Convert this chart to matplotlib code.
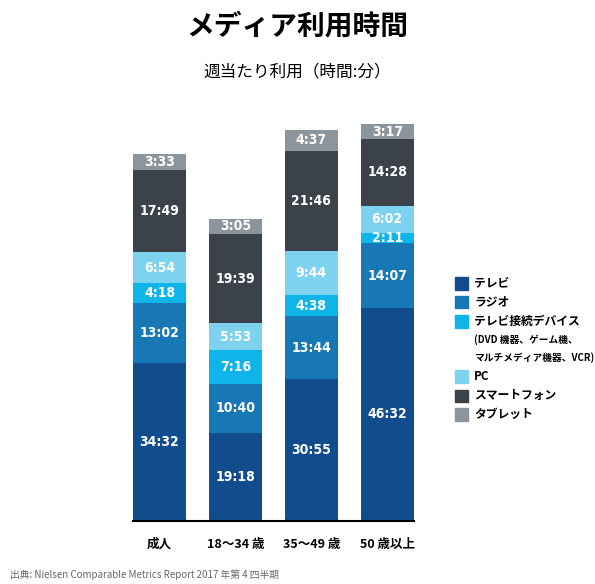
import matplotlib.pyplot as plt
from matplotlib.patches import Rectangle

plt.rcParams['font.family'] = ['Noto Sans CJK JP', 'DejaVu Sans']

# データ(時間:分)
groups = ["成人", "18～34 歳", "35～49 歳", "50 歳以上"]
media = ["テレビ", "ラジオ", "テレビ接続デバイス", "PC", "スマートフォン", "タブレット"]
tv = ["34:32", "19:18", "30:55", "46:32"]
radio = ["13:02", "10:40", "13:44", "14:07"]
tv_device = ["4:18", "7:16", "4:38", "2:11"]
pc = ["6:54", "5:53", "9:44", "6:02"]
smartphone = ["17:49", "19:39", "21:46", "14:28"]
tablet = ["3:33", "3:05", "4:37", "3:17"]
series = [tv, radio, tv_device, pc, smartphone, tablet]
colors = ["#114d8c", "#1778b5", "#0fb5e9", "#7dd3ef", "#3b4249", "#8d959c"]


def to_hours(s):
    h, m = s.split(":")
    return int(h) + int(m) / 60


fig = plt.figure(figsize=(5.95, 5.84), dpi=100)
ax = fig.add_axes([0.2235, 0.108, 0.472, 0.69])

x = range(len(groups))
bottoms = [0.0] * len(groups)
for vals, col in zip(series, colors):
    hrs = [to_hours(v) for v in vals]
    ax.bar(x, hrs, width=0.7, bottom=bottoms, color=col, edgecolor="none")
    for i, (h, lab) in enumerate(zip(hrs, vals)):
        ax.text(i, bottoms[i] + h / 2, lab, ha="center", va="center",
                color="white", fontsize=10, fontweight="bold",
                family="DejaVu Sans", stretch="condensed")
    bottoms = [b + h for b, h in zip(bottoms, hrs)]

ax.set_xlim(-0.35, 3.35)
ax.set_ylim(0, 88)
for s in ["top", "right", "left"]:
    ax.spines[s].set_visible(False)
ax.spines["bottom"].set_linewidth(1.5)
ax.set_yticks([])
ax.set_xticks(list(x))
ax.set_xticklabels(groups, fontsize=9, fontweight="bold")
ax.tick_params(axis="x", length=0, pad=12)

fig.text(0.5, 0.955, "メディア利用時間", ha="center", va="center",
         fontsize=20, fontweight="bold")
fig.text(0.5, 0.877, "週当たり利用（時間:分）", ha="center", va="center", fontsize=12)

# 凡例
legend_rows = [0.515, 0.483, 0.450, 0.355, 0.322, 0.290]
for name, col, yy in zip(media, colors, legend_rows):
    fig.patches.append(Rectangle((0.764, yy - 0.011), 0.022, 0.022, color=col,
                                 transform=fig.transFigure, figure=fig))
    fig.text(0.797, yy, name, ha="left", va="center", fontsize=8.5, fontweight="bold")
fig.text(0.797, 0.419, "(DVD 機器、ゲーム機、", ha="left", va="center",
         fontsize=7, fontweight="bold")
fig.text(0.797, 0.388, "マルチメディア機器、VCR)", ha="left", va="center",
         fontsize=7, fontweight="bold")

fig.text(0.017, 0.016, "出典: Nielsen Comparable Metrics Report 2017 年第 4 四半期",
         ha="left", va="center", fontsize=7, color="#666666")

plt.savefig("out.png", dpi=100)
